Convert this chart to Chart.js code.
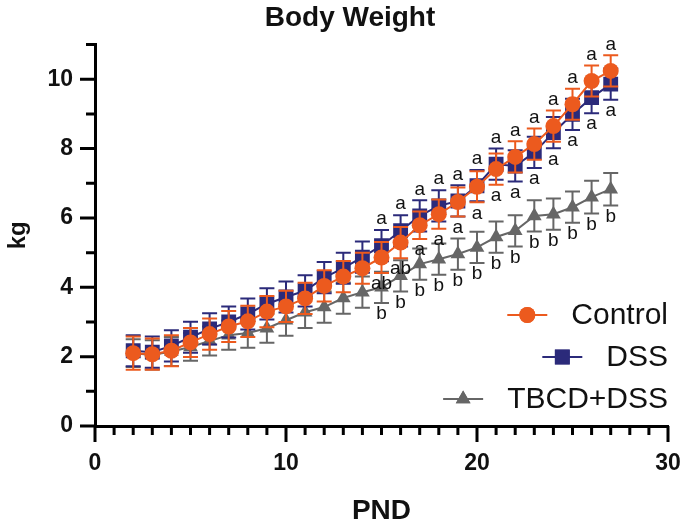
<!DOCTYPE html>
<html>
<head>
<meta charset="utf-8">
<script src="https://cdn.jsdelivr.net/npm/chart.js@4.4.0/dist/chart.umd.min.js"></script>
<style>
  body { margin: 0; background: #fff; }
  #wrap { position: relative; width: 688px; height: 525px; }
</style>
</head>
<body>
<div id="wrap"><canvas id="bw"></canvas></div>
<script>
// PND days
const pnd = [2,3,4,5,6,7,8,9,10,11,12,13,14,15,16,17,18,19,20,21,22,23,24,25,26,27];

// mean body weight (kg)
const controlMean = [2.10,2.07,2.17,2.41,2.65,2.87,3.02,3.30,3.45,3.68,4.04,4.31,4.55,4.86,5.29,5.79,6.11,6.46,6.90,7.41,7.76,8.13,8.65,9.28,9.95,10.24];
const dssMean     = [2.17,2.13,2.31,2.56,2.80,3.00,3.23,3.52,3.72,3.90,4.28,4.55,4.87,5.20,5.63,6.06,6.35,6.49,6.93,7.55,7.50,7.89,8.46,8.99,9.47,9.86];
const tbcdMean    = [2.10,2.05,2.15,2.28,2.45,2.62,2.68,2.82,3.05,3.28,3.43,3.69,3.86,4.00,4.33,4.67,4.81,4.96,5.15,5.45,5.63,6.06,6.11,6.31,6.60,6.83];

// SD
const controlSd = [0.48,0.45,0.45,0.42,0.45,0.45,0.45,0.45,0.45,0.45,0.45,0.45,0.45,0.45,0.45,0.40,0.42,0.42,0.45,0.45,0.45,0.45,0.45,0.45,0.45,0.45];
const dssSd     = [0.45,0.45,0.45,0.45,0.45,0.45,0.45,0.45,0.45,0.45,0.45,0.45,0.45,0.45,0.45,0.45,0.45,0.45,0.45,0.45,0.45,0.45,0.45,0.45,0.45,0.45];
const tbcdSd    = [0.40,0.42,0.42,0.40,0.42,0.42,0.42,0.42,0.45,0.45,0.45,0.45,0.45,0.45,0.45,0.45,0.45,0.45,0.45,0.45,0.45,0.45,0.45,0.45,0.47,0.47];

// significance letters (from PND 15 on)
const letterDays = [15,16,17,18,19,20,21,22,23,24,25,26,27];
const topLetters = ["a","a","a","a","a","a","a","a","a","a","a","a","a"];
const midLetters = ["ab","ab","a","a","a","a","a","a","a","a","a","a","a"];
const lowLetters = ["b","b","b","b","b","b","b","b","b","b","b","b","b"];

const xTicks = [0,10,20,30];
const yTicks = [0,2,4,6,8,10];

const ORANGE = "#EC5A1E";
const NAVY = "#2B2A7A";
const GREY = "#666666";
const FONT = "'Liberation Sans', Arial, Helvetica, sans-serif";

const sds = [controlSd, dssSd, tbcdSd];

function pts(means){
  return pnd.map((d,i)=>({x:d, y:means[i]}));
}

// error bars drawn under each dataset's markers
const errorBars = {
  id: "errorBars",
  beforeDatasetDraw(chart, args){
    const ctx = chart.ctx;
    const ds = chart.data.datasets[args.index];
    const sd = sds[args.index];
    const xs = chart.scales.x, ys = chart.scales.y;
    ctx.save();
    ctx.strokeStyle = ds.borderColor;
    ctx.lineWidth = 2;
    ds.data.forEach((p,i)=>{
      const px = xs.getPixelForValue(p.x);
      const top = ys.getPixelForValue(p.y + sd[i]);
      const bot = ys.getPixelForValue(p.y - sd[i]);
      ctx.beginPath();
      ctx.moveTo(px, top); ctx.lineTo(px, bot);
      ctx.moveTo(px-7.5, top); ctx.lineTo(px+7.5, top);
      ctx.moveTo(px-7.5, bot); ctx.lineTo(px+7.5, bot);
      ctx.stroke();
    });
    ctx.restore();
  }
};

// tick marks, letters and legend
const extras = {
  id: "extras",
  afterLayout(chart){
    // title sits a bit right of the canvas centre
    if(chart.titleBlock){ chart.titleBlock.left = 32; }
  },
  afterDraw(chart){
    const ctx = chart.ctx;
    const xs = chart.scales.x, ys = chart.scales.y;
    const area = chart.chartArea;
    ctx.save();
    ctx.strokeStyle = "#000";
    ctx.lineWidth = 3;
    ctx.beginPath();
    for(let v=0; v<=30; v++){
      const px = xs.getPixelForValue(v);
      const len = v % 10 === 0 ? 16 : 9;
      ctx.moveTo(px, area.bottom); ctx.lineTo(px, area.bottom + len);
    }
    for(let v=0; v<=11; v++){
      const py = ys.getPixelForValue(v);
      const len = v % 2 === 0 ? 15 : 9;
      ctx.moveTo(area.left, py); ctx.lineTo(area.left - len, py);
    }
    ctx.stroke();

    // letters
    ctx.fillStyle = "#111";
    ctx.font = "19px " + FONT;
    ctx.textAlign = "center";
    ctx.textBaseline = "middle";
    letterDays.forEach((d,k)=>{
      const i = pnd.indexOf(d);
      const px = xs.getPixelForValue(d);
      const hi = Math.max(controlMean[i]+controlSd[i], dssMean[i]+dssSd[i]);
      const lo = Math.min(controlMean[i]-controlSd[i], dssMean[i]-dssSd[i]);
      const gl = tbcdMean[i]-tbcdSd[i];
      ctx.fillText(topLetters[k], px, ys.getPixelForValue(hi) - 11);
      ctx.fillText(midLetters[k], px, ys.getPixelForValue(lo) + 11);
      ctx.fillText(lowLetters[k], px, ys.getPixelForValue(gl) + 11);
    });

    // legend
    ctx.font = "30px " + FONT;
    ctx.textAlign = "right";
    chart.data.datasets.forEach((ds,i)=>{
      const y = area.bottom - 111 + i*42;
      const right = area.right;
      const w = ctx.measureText(ds.label).width;
      const mx = right - w - 44;
      ctx.fillStyle = "#111";
      ctx.fillText(ds.label, right, y + 1);
      ctx.strokeStyle = ds.borderColor;
      ctx.lineWidth = 2;
      ctx.beginPath();
      ctx.moveTo(mx-20, y); ctx.lineTo(mx+20, y);
      ctx.stroke();
      ctx.fillStyle = ds.pointBackgroundColor;
      Chart.helpers.drawPoint(ctx, {pointStyle: ds.pointStyle, radius: ds.pointRadius, borderWidth: 0, rotation: 0}, mx, y);
      ctx.fill();
    });
    ctx.restore();
  }
};

new Chart(document.getElementById("bw"), {
  type: "line",
  data: {
    datasets: [
      {label:"Control", data: pts(controlMean), borderColor: ORANGE, backgroundColor: ORANGE,
       pointBackgroundColor: ORANGE, pointBorderWidth: 0, pointStyle: "circle", pointRadius: 8, borderWidth: 2},
      {label:"DSS", data: pts(dssMean), borderColor: NAVY, backgroundColor: NAVY,
       pointBackgroundColor: NAVY, pointBorderWidth: 0, pointStyle: "rect", pointRadius: 10.5, borderWidth: 2},
      {label:"TBCD+DSS", data: pts(tbcdMean), borderColor: GREY, backgroundColor: GREY,
       pointBackgroundColor: GREY, pointBorderWidth: 0, pointStyle: "triangle", pointRadius: 8.5, borderWidth: 2}
    ]
  },
  options: {
    responsive: true,
    maintainAspectRatio: false,
    animation: false,
    layout: {padding: {left: 0, right: 20, top: 0, bottom: 0}},
    plugins: {
      legend: {display: false},
      tooltip: {enabled: false},
      title: {display: true, text: "Body Weight", color: "#111",
              font: {family: FONT, size: 28, weight: "bold"}, padding: {top: 1, bottom: 10}}
    },
    scales: {
      x: {
        type: "linear", min: 0, max: 30,
        afterFit(s){ s.height = 99; s.paddingRight = 0; s.paddingLeft = 0; },
        grid: {display: false, drawTicks: false},
        border: {display: true, color: "#000", width: 3},
        ticks: {stepSize: 1, autoSkip: false, padding: 24, color: "#111", maxRotation: 0,
                font: {family: FONT, size: 23, weight: "bold"},
                callback: v => xTicks.includes(v) ? v : ""},
        title: {display: true, text: "PND", color: "#111", padding: {top: 0, bottom: 0},
                font: {family: FONT, size: 28, weight: "bold", lineHeight: 1}}
      },
      y: {
        type: "linear", min: 0, max: 11,
        afterFit(s){ s.width = 95; s.paddingTop = 0; s.paddingBottom = 0; },
        grid: {display: false, drawTicks: false},
        border: {display: true, color: "#000", width: 3},
        ticks: {stepSize: 1, autoSkip: false, padding: 22, color: "#111",
                font: {family: FONT, size: 23, weight: "bold"},
                callback: v => yTicks.includes(v) ? v : ""},
        title: {display: true, text: "kg", color: "#111", padding: {top: 4, bottom: 0},
                font: {family: FONT, size: 24, weight: "bold"}}
      }
    }
  },
  plugins: [errorBars, extras]
});
</script>
</body>
</html>
